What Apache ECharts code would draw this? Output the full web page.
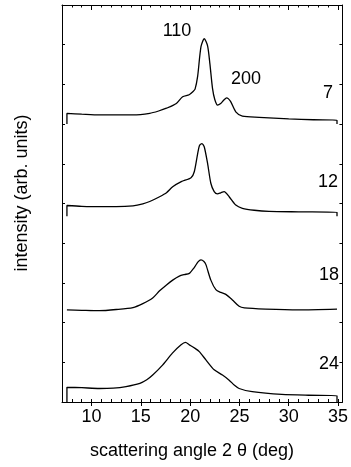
<!DOCTYPE html>
<html>
<head>
<meta charset="utf-8">
<script src="https://cdn.jsdelivr.net/npm/echarts@6/dist/echarts.min.js"></script>
<style>
  html, body { margin: 0; padding: 0; background: #fff; }
  #chart { width: 351px; height: 467px; }
</style>
</head>
<body>
<div id="chart"></div>
<script>
// Offset diffraction traces, one per sample (offsets in arb. units).
const curve7 = [
  [7.5, 7.0], [7.5, 7.27], [9.0, 7.25], [10.8, 7.23], [12.5, 7.23], [14.2, 7.23],
  [15.9, 7.27], [16.8, 7.33], [17.6, 7.40], [18.6, 7.52], [19.24, 7.69], [19.9, 7.74],
  [20.3, 7.82], [20.5, 7.88], [20.76, 8.20], [21.1, 8.95], [21.43, 9.15], [21.77, 8.97],
  [22.0, 8.53], [22.27, 7.90], [22.5, 7.62], [22.78, 7.48], [23.1, 7.52], [23.4, 7.60],
  [23.7, 7.66], [24.1, 7.57], [24.63, 7.31], [25.3, 7.20], [27.0, 7.17], [30.0, 7.13],
  [32.5, 7.11], [34.9, 7.10], [34.9, 7.0]
];
const curve12 = [
  [7.5, 4.68], [7.5, 4.95], [9.0, 4.93], [10.8, 4.92], [12.5, 4.92], [14.2, 4.94],
  [15.2, 4.99], [15.9, 5.05], [16.9, 5.17], [17.6, 5.27], [18.23, 5.42], [19.1, 5.55],
  [20.09, 5.65], [20.42, 5.80], [20.76, 6.25], [20.95, 6.46], [21.2, 6.51], [21.43, 6.43],
  [21.77, 6.01], [22.1, 5.51], [22.44, 5.30], [22.78, 5.24], [23.1, 5.27], [23.45, 5.30],
  [23.96, 5.17], [24.63, 4.96], [25.3, 4.88], [26.5, 4.83], [28.0, 4.80], [31.0, 4.79],
  [34.9, 4.78], [34.9, 4.68]
];
const curve18 = [
  [7.5, 2.32], [9.0, 2.31], [10.8, 2.30], [12.5, 2.33], [14.2, 2.38], [15.2, 2.48],
  [16.2, 2.62], [16.9, 2.80], [17.6, 2.95], [18.23, 3.07], [18.9, 3.17], [19.41, 3.21],
  [19.92, 3.24], [20.4, 3.38], [20.8, 3.53], [21.1, 3.58], [21.4, 3.54], [21.6, 3.46],
  [22.1, 3.07], [22.61, 2.83], [23.11, 2.76], [23.62, 2.71], [24.29, 2.57], [24.97, 2.41],
  [25.5, 2.37], [27.66, 2.34], [31.0, 2.32], [34.9, 2.34]
];
const curve24 = [
  [7.5, 0.0], [7.5, 0.37], [9.0, 0.36], [10.8, 0.34], [12.2, 0.35], [13.5, 0.39],
  [14.9, 0.47], [15.6, 0.56], [16.2, 0.68], [17.2, 0.93], [18.2, 1.23], [19.08, 1.44],
  [19.52, 1.50], [19.92, 1.44], [20.5, 1.35], [20.93, 1.27], [21.6, 1.06], [22.44, 0.81],
  [23.28, 0.68], [23.96, 0.55], [24.5, 0.42], [24.97, 0.34], [26.3, 0.26], [29.3, 0.19],
  [32.0, 0.17], [34.9, 0.16], [34.9, 0.0]
];
const xMajorTicks = [10, 15, 20, 25, 30, 35];
const sampleLabels = ['7', '12', '18', '24'];
const peakLabels = ['110', '200'];

const FONT = 'Liberation Sans, Arial, Helvetica, sans-serif';
const chart = echarts.init(document.getElementById('chart'), null, { renderer: 'canvas' });

const xBase = { type: 'value', min: 7, max: 35.45, gridIndex: 0 };
const lineStyle = { color: '#000', width: 1 };

function trace(data) {
  return {
    type: 'line', data: data, xAxisIndex: 0, yAxisIndex: 0,
    showSymbol: false, smooth: 0.25, animation: false,
    lineStyle: { color: '#000', width: 1.3 }
  };
}

function txt(text, x, y, align) {
  return {
    type: 'text', x: x, y: y,
    style: { text: text, font: '18px ' + FONT, fill: '#000',
             align: align || 'center', verticalAlign: 'middle' }
  };
}

chart.setOption({
  animation: false,
  grid: { left: 62, right: 7, top: 5, bottom: 65 },
  xAxis: [
    // bottom: labels and outward major ticks
    Object.assign({}, xBase, {
      position: 'bottom', interval: 1,
      axisLine: { show: true, lineStyle: lineStyle },
      axisTick: { show: true, inside: false, length: 4, customValues: xMajorTicks, lineStyle: lineStyle },
      axisLabel: { show: true, customValues: xMajorTicks, color: '#000', fontSize: 18,
                   fontFamily: FONT, margin: 6 },
      splitLine: { show: false }
    }),
    // bottom: inward ticks at every degree
    Object.assign({}, xBase, {
      position: 'bottom', interval: 1,
      axisLine: { show: false },
      axisTick: { show: true, inside: true, length: 3, lineStyle: lineStyle },
      axisLabel: { show: false }, splitLine: { show: false }
    }),
    // top: minor ticks
    Object.assign({}, xBase, {
      position: 'top', interval: 1,
      axisLine: { show: true, lineStyle: lineStyle },
      axisTick: { show: true, inside: true, length: 2.5, lineStyle: lineStyle },
      axisLabel: { show: false }, splitLine: { show: false }
    }),
    // top: major ticks
    Object.assign({}, xBase, {
      position: 'top', interval: 1,
      axisLine: { show: false },
      axisTick: { show: true, inside: true, length: 5, customValues: xMajorTicks, lineStyle: lineStyle },
      axisLabel: { show: false }, splitLine: { show: false }
    })
  ],
  yAxis: [
    { type: 'value', min: 0, max: 10, interval: 1, position: 'left',
      axisLine: { show: true, lineStyle: lineStyle },
      axisTick: { show: true, inside: true, length: 3, lineStyle: lineStyle },
      axisLabel: { show: false }, splitLine: { show: false } },
    { type: 'value', min: 0, max: 10, interval: 1, position: 'right',
      axisLine: { show: true, lineStyle: lineStyle },
      axisTick: { show: true, inside: true, length: 3, lineStyle: lineStyle },
      axisLabel: { show: false }, splitLine: { show: false } }
  ],
  series: [trace(curve7), trace(curve12), trace(curve18), trace(curve24)],
  graphic: [
    txt(peakLabels[0], 177, 31),
    txt(peakLabels[1], 246, 79),
    txt(sampleLabels[0], 333, 93, 'right'),
    txt(sampleLabels[1], 338, 182, 'right'),
    txt(sampleLabels[2], 339, 275, 'right'),
    txt(sampleLabels[3], 339, 364, 'right'),
    txt('scattering angle 2 θ (deg)', 192, 451),
    {
      type: 'text', x: 22, y: 193, rotation: Math.PI / 2,
      style: { text: 'intensity (arb. units)', font: '18px ' + FONT, fill: '#000',
               align: 'center', verticalAlign: 'middle' }
    }
  ]
});
</script>
</body>
</html>
